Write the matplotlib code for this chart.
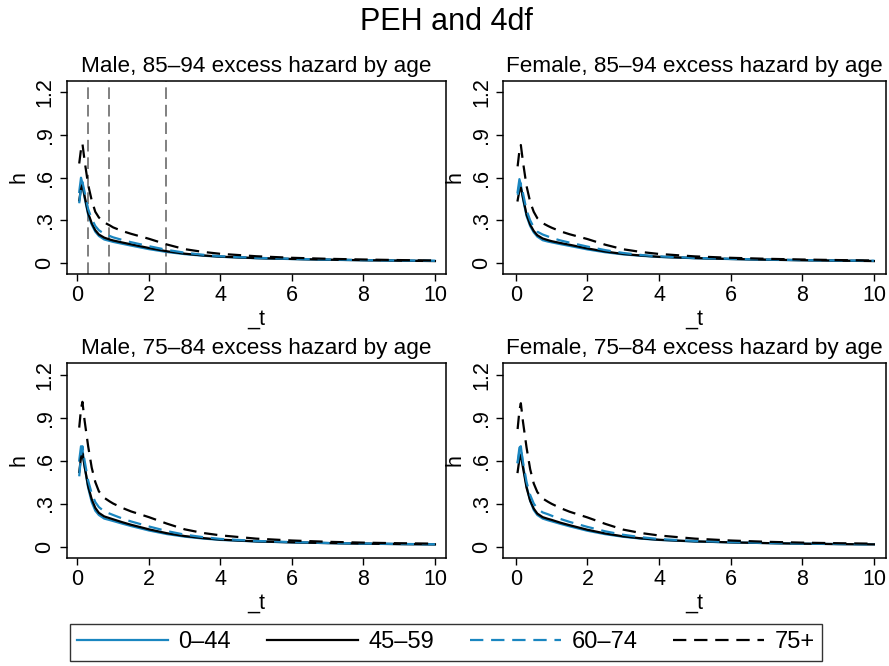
import matplotlib
matplotlib.use("Agg")
import matplotlib.pyplot as plt
from matplotlib.lines import Line2D

plt.rcParams['font.family'] = ['Liberation Sans', 'DejaVu Sans']

# ---------------- data ----------------
t = [0.05, 0.1, 0.14, 0.2, 0.3, 0.4, 0.5, 0.6, 0.75, 0.9, 1.0, 1.25, 1.5,
     2.0, 2.5, 3.0, 3.5, 4.0, 5.0, 6.0, 7.0, 8.0, 9.0, 10.0]

groups = ["0–44", "45–59", "60–74", "75+"]

titles = ["Male, 85–94 excess hazard by age", "Female, 85–94 excess hazard by age",
          "Male, 75–84 excess hazard by age", "Female, 75–84 excess hazard by age"]

# Male 85-94
m85_g1 = [0.50, 0.60, 0.56, 0.46, 0.34, 0.27, 0.22, 0.19, 0.165, 0.155, 0.148, 0.135, 0.122,
          0.097, 0.077, 0.062, 0.051, 0.043, 0.033, 0.027, 0.022, 0.019, 0.016, 0.014]
m85_g2 = [0.44, 0.52, 0.55, 0.47, 0.35, 0.28, 0.23, 0.20, 0.178, 0.165, 0.158, 0.144, 0.131,
          0.105, 0.082, 0.065, 0.053, 0.044, 0.034, 0.028, 0.023, 0.019, 0.016, 0.013]
m85_g3 = [0.42, 0.53, 0.57, 0.50, 0.38, 0.31, 0.26, 0.23, 0.205, 0.19, 0.18, 0.162, 0.146,
          0.118, 0.092, 0.072, 0.058, 0.047, 0.036, 0.029, 0.024, 0.020, 0.017, 0.015]
m85_g4 = [0.70, 0.80, 0.84, 0.72, 0.55, 0.44, 0.36, 0.32, 0.285, 0.265, 0.25, 0.225, 0.205,
          0.17, 0.13, 0.097, 0.078, 0.064, 0.047, 0.036, 0.029, 0.024, 0.020, 0.017]

# Female 85-94
f85_g1 = [0.50, 0.59, 0.55, 0.45, 0.33, 0.26, 0.215, 0.185, 0.16, 0.15, 0.145, 0.132, 0.12,
          0.095, 0.075, 0.06, 0.05, 0.042, 0.033, 0.027, 0.022, 0.019, 0.016, 0.014]
f85_g2 = [0.44, 0.51, 0.53, 0.46, 0.34, 0.27, 0.225, 0.195, 0.172, 0.16, 0.153, 0.14, 0.128,
          0.102, 0.08, 0.063, 0.052, 0.043, 0.034, 0.028, 0.023, 0.019, 0.016, 0.013]
f85_g3 = [0.48, 0.55, 0.56, 0.49, 0.37, 0.30, 0.25, 0.22, 0.20, 0.186, 0.176, 0.158, 0.143,
          0.115, 0.09, 0.07, 0.056, 0.046, 0.035, 0.029, 0.024, 0.020, 0.017, 0.015]
f85_g4 = [0.68, 0.79, 0.83, 0.71, 0.54, 0.43, 0.36, 0.315, 0.28, 0.26, 0.248, 0.222, 0.202,
          0.168, 0.128, 0.096, 0.077, 0.063, 0.046, 0.036, 0.029, 0.024, 0.020, 0.017]

# Male 75-84
m75_g1 = [0.60, 0.70, 0.68, 0.56, 0.41, 0.31, 0.25, 0.22, 0.195, 0.185, 0.178, 0.16, 0.143,
          0.112, 0.087, 0.069, 0.056, 0.046, 0.035, 0.029, 0.024, 0.020, 0.017, 0.015]
m75_g2 = [0.52, 0.62, 0.65, 0.56, 0.42, 0.33, 0.27, 0.235, 0.21, 0.198, 0.19, 0.17, 0.152,
          0.12, 0.093, 0.073, 0.059, 0.048, 0.036, 0.029, 0.024, 0.020, 0.017, 0.015]
m75_g3 = [0.49, 0.63, 0.70, 0.60, 0.46, 0.37, 0.31, 0.275, 0.245, 0.23, 0.22, 0.196, 0.175,
          0.14, 0.108, 0.083, 0.066, 0.053, 0.039, 0.031, 0.025, 0.021, 0.018, 0.016]
m75_g4 = [0.83, 0.96, 1.01, 0.88, 0.70, 0.55, 0.45, 0.385, 0.34, 0.315, 0.30, 0.27, 0.245,
          0.205, 0.16, 0.12, 0.095, 0.078, 0.055, 0.042, 0.033, 0.027, 0.023, 0.020]

# Female 75-84
f75_g1 = [0.59, 0.69, 0.70, 0.57, 0.42, 0.32, 0.255, 0.22, 0.195, 0.183, 0.176, 0.158, 0.141,
          0.11, 0.086, 0.068, 0.055, 0.046, 0.035, 0.029, 0.024, 0.020, 0.017, 0.015]
f75_g2 = [0.52, 0.61, 0.64, 0.55, 0.41, 0.32, 0.265, 0.23, 0.205, 0.193, 0.186, 0.166, 0.149,
          0.117, 0.091, 0.071, 0.057, 0.047, 0.036, 0.029, 0.024, 0.020, 0.017, 0.015]
f75_g3 = [0.58, 0.66, 0.69, 0.59, 0.45, 0.36, 0.30, 0.265, 0.238, 0.225, 0.215, 0.192, 0.172,
          0.137, 0.106, 0.082, 0.065, 0.052, 0.039, 0.031, 0.025, 0.021, 0.018, 0.016]
f75_g4 = [0.82, 0.95, 1.00, 0.87, 0.69, 0.54, 0.44, 0.38, 0.335, 0.312, 0.298, 0.268, 0.243,
          0.203, 0.158, 0.118, 0.094, 0.077, 0.055, 0.042, 0.033, 0.027, 0.023, 0.020]

panels = [
    [m85_g1, m85_g2, m85_g3, m85_g4],
    [f85_g1, f85_g2, f85_g3, f85_g4],
    [m75_g1, m75_g2, m75_g3, m75_g4],
    [f75_g1, f75_g2, f75_g3, f75_g4],
]

knots = [0.29, 0.89, 2.47]

yticks = [0, 0.3, 0.6, 0.9, 1.2]
ytick_labels = ["0", ".3", ".6", ".9", "1.2"]
xticks = [0, 2, 4, 6, 8, 10]

# ---------------- styles ----------------
blue = "#1a86c0"
styles = [
    dict(color=blue, linestyle="-", lw=1.6),
    dict(color="black", linestyle="-", lw=1.6),
    dict(color=blue, linestyle=(0, (6, 3.5)), lw=1.6),
    dict(color="black", linestyle=(0, (6, 3.5)), lw=1.6),
]

W, H = 889, 666
fig = plt.figure(figsize=(W / 100, H / 100), dpi=100)

def fx(px):
    return px / W

def fy(py):
    return 1 - py / H

lefts = [66.7, 503.3]
rights = [446.0, 885.7]
tops = [80.7, 362.7]
bottoms = [274.0, 557.7]
xlims = [(-0.30, 10.31), (-0.35, 10.33)]

FS = 15.5

for i, series in enumerate(panels):
    r, c = divmod(i, 2)
    ax = fig.add_axes([fx(lefts[c]), fy(bottoms[r]), fx(rights[c] - lefts[c]),
                       (bottoms[r] - tops[r]) / H])
    if i == 0:
        for k in knots:
            ax.axvline(k, color="#808080", lw=1.4, linestyle=(0, (6, 3)), zorder=1)
    for s, st in zip(series, styles):
        ax.plot(t, s, zorder=2, **st)
    ax.set_xlim(*xlims[c])
    ax.set_ylim(-0.078, 1.283)
    ax.set_yticks(yticks)
    ax.set_yticklabels(ytick_labels, rotation=90, va="center")
    ax.set_xticks(xticks)
    ax.tick_params(direction="out", length=5, width=1.0, labelsize=FS, pad=3)
    for sp in ax.spines.values():
        sp.set_linewidth(1.1)
        sp.set_color("black")
    ax.set_xlabel("_t", fontsize=FS, labelpad=2)
    ax.set_ylabel("h", fontsize=FS, labelpad=4)
    ax.set_title(titles[i], fontsize=16.2, pad=6)

fig.text(fx(446), fy(22), "PEH and 4df", ha="center", va="center", fontsize=22)

handles = [Line2D([0], [0], **st) for st in styles]
leg = fig.legend(handles, groups, loc="center",
                 bbox_to_anchor=(fx(446), fy(642.5)),
                 ncol=4, fontsize=17, frameon=True, fancybox=False,
                 handlelength=3.85, handletextpad=0.45, columnspacing=1.52,
                 borderpad=0.3, borderaxespad=0)
leg.get_frame().set_edgecolor("black")
leg.get_frame().set_linewidth(1.0)

fig.savefig("out.png", dpi=100)
